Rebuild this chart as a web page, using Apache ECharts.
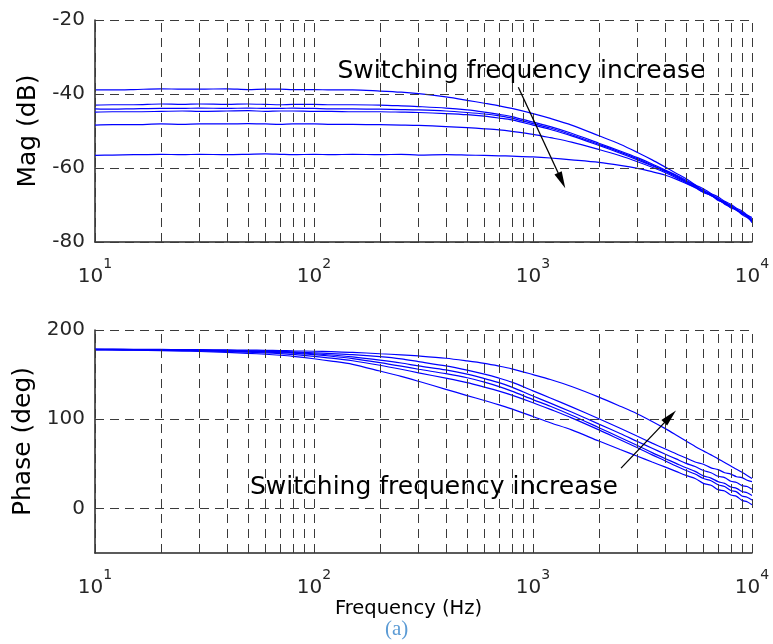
<!DOCTYPE html>
<html><head><meta charset="utf-8">
<script src="https://cdn.jsdelivr.net/npm/echarts@6/dist/echarts.min.js"></script>
<style>html,body{margin:0;padding:0;background:#fff}#c{width:773px;height:644px}</style>
</head><body><div id="c"></div>
<script>
// ---------- data ----------
const freqs = [10,12,15,20,25,30,40,50,60,70,80,100,120,150,200,250,300,400,500,600,700,800,1000,1200,1500,2000,2500,3000,3500,4000,4500,5000,5500,6000,6500,7000,7500,8000,8500,9000,9500,10000];

// magnitude (dB), switching frequency increasing from mag1 to mag6
const mag1 = [-38.9,-38.9,-38.8,-38.6,-38.7,-38.7,-38.6,-38.8,-38.7,-38.7,-38.8,-38.8,-38.9,-38.9,-39.2,-39.5,-39.9,-40.8,-41.7,-42.5,-43.2,-43.9,-45.3,-46.6,-48.4,-51.3,-53.6,-55.8,-57.8,-59.7,-61.4,-62.9,-64.5,-65.6,-66.9,-67.8,-69.0,-69.8,-70.9,-71.6,-72.7,-73.4];
const mag2 = [-43.0,-42.9,-42.9,-42.7,-42.8,-42.7,-42.8,-42.7,-42.8,-42.9,-42.8,-42.8,-42.9,-42.9,-43.0,-43.2,-43.4,-43.8,-44.3,-44.9,-45.5,-46.1,-47.6,-48.8,-50.6,-53.3,-55.4,-57.2,-58.9,-60.5,-61.9,-63.3,-64.8,-66.0,-67.2,-68.3,-69.2,-70.3,-71.1,-72.1,-72.8,-73.9];
const mag3 = [-44.0,-44.1,-44.0,-43.9,-43.9,-43.8,-43.9,-43.8,-43.9,-43.9,-43.8,-43.9,-44.0,-44.0,-44.1,-44.2,-44.3,-44.6,-45.0,-45.4,-45.9,-46.5,-48.0,-49.2,-51.0,-53.6,-55.7,-57.5,-59.2,-60.7,-62.1,-63.6,-64.6,-66.3,-67.0,-68.6,-69.5,-70.1,-71.5,-71.9,-73.2,-74.3];
const mag4 = [-44.9,-44.8,-44.8,-44.7,-44.6,-44.7,-44.6,-44.5,-44.7,-44.6,-44.6,-44.7,-44.7,-44.8,-44.8,-44.9,-45.0,-45.3,-45.6,-46.0,-46.5,-47.0,-48.4,-49.6,-51.3,-53.9,-56.0,-57.8,-59.4,-60.9,-62.3,-63.8,-65.0,-66.1,-67.5,-68.2,-69.8,-70.6,-71.2,-72.4,-73.0,-74.8];
const mag5 = [-48.4,-48.3,-48.3,-48.1,-48.2,-48.1,-48.1,-48.0,-48.1,-48.2,-48.1,-48.1,-48.2,-48.2,-48.3,-48.4,-48.5,-48.8,-49.1,-49.4,-49.7,-50.1,-50.9,-51.8,-53.0,-55.0,-56.7,-58.3,-59.8,-61.2,-62.6,-64.0,-65.2,-66.5,-67.3,-68.8,-69.4,-70.8,-71.3,-72.6,-73.4,-74.5];
const mag6 = [-56.6,-56.5,-56.4,-56.3,-56.4,-56.3,-56.4,-56.3,-56.2,-56.3,-56.4,-56.3,-56.4,-56.3,-56.4,-56.3,-56.5,-56.4,-56.5,-56.6,-56.7,-56.8,-57.0,-57.3,-57.8,-58.5,-59.3,-60.1,-61.0,-61.9,-63.0,-64.2,-65.3,-66.6,-67.4,-68.5,-69.6,-70.4,-71.4,-72.3,-73.0,-74.1];

// phase (deg), highest (ph1) to lowest (ph6)
const ph1 = [178.5,178.5,178.4,178.2,178.1,178.0,177.7,177.5,177.2,177.0,176.7,176.2,175.7,175.0,173.4,172.2,170.9,168.3,165.3,162.5,159.5,156.5,150.0,144.5,136.7,124.8,114.6,105.9,97.5,89.7,82.3,75.5,69.5,64.5,60.0,55.5,51.5,47.5,44.0,40.5,37.0,33.5];
const ph2 = [178.3,178.2,178.1,177.9,177.7,177.5,177.1,176.7,176.3,175.9,175.4,174.5,173.6,172.4,170.1,167.6,164.5,159.7,155.0,150.5,146.0,141.5,131.8,123.8,113.8,100.5,89.8,80.8,73.2,66.8,61.2,56.5,52.0,49.5,45.5,43.5,40.0,38.5,35.5,34.5,31.5,30.0];
const ph3 = [178.2,178.1,178.0,177.8,177.5,177.3,176.8,176.3,175.8,175.3,174.8,173.4,172.0,169.8,166.2,163.0,159.7,155.2,150.5,145.5,141.0,136.0,126.0,118.0,108.0,94.5,84.0,75.0,67.5,61.0,55.5,50.5,47.0,42.5,40.0,36.0,34.5,30.5,29.0,25.5,24.5,21.5];
const ph4 = [178.1,178.0,177.9,177.6,177.3,177.0,176.4,175.8,175.2,174.6,174.0,172.3,170.6,168.0,163.5,159.5,156.0,151.0,146.5,141.5,136.5,131.5,122.0,114.5,104.5,90.5,79.5,70.5,62.5,56.0,50.5,45.5,41.5,36.5,34.0,30.0,28.0,24.0,22.5,19.0,17.5,14.5];
const ph5 = [178.0,177.9,177.7,177.4,177.0,176.6,175.9,175.1,174.3,173.5,172.6,170.5,168.5,165.5,160.5,156.0,152.0,146.0,141.0,136.0,131.5,127.0,118.5,111.0,101.5,88.0,77.0,68.0,60.0,53.5,47.5,42.5,38.5,33.5,31.0,26.5,24.5,20.0,18.5,14.0,12.5,9.5];
const ph6 = [177.8,177.6,177.3,176.9,176.4,175.9,174.9,173.9,172.8,171.7,170.5,167.8,165.2,161.5,154.0,148.0,142.5,133.5,126.5,121.0,116.0,111.5,103.0,96.0,88.0,75.5,66.0,58.5,52.0,46.5,41.5,37.0,33.5,28.0,26.0,21.0,19.5,15.0,13.5,9.0,7.5,4.0];

// axis ticks
const decades = [10, 100, 1000, 10000];
const magTicks = [-80, -60, -40, -20];
const phaseTicks = [0, 100, 200];

// annotations (data units)
const annotText = 'Switching frequency increase';
const magNote = [885, -33.9];
const magArrow = [[857, -38.2], [1352, -63.4]];
const phNote = [353, 23];
const phArrow = [[2524, 45.1], [4228, 102.9]];

// ---------- chart ----------
const FONT = 'DejaVu Sans';
const AX = '#262626';
const GRID = '#3a3a3a';
const BLUE = '#0000ff';
const ARROW_HEAD = 'path://M5,0 L10,20 L0,20 Z';

const vGrid = [];
for (let d = 0; d < decades.length; d++) {
  vGrid.push(decades[d]);
  if (d < decades.length - 1) for (let k = 2; k <= 9; k++) vGrid.push(decades[d] * k);
}

function xAxisCfg(idx) {
  return {
    type: 'log', logBase: 10, min: 10, max: 10000, gridIndex: idx,
    axisLine: { show: true, onZero: false, lineStyle: { color: AX, width: 1.5 } },
    axisTick: { show: true, inside: true, length: 6, lineStyle: { color: AX } },
    splitLine: { show: false },
    axisLabel: {
      margin: 15,
      formatter: v => '{b|10}{s|' + Math.round(Math.log10(v)) + '}',
      rich: {
        b: { fontFamily: FONT, fontSize: 20, color: AX, verticalAlign: 'bottom', lineHeight: 30 },
        s: { fontFamily: FONT, fontSize: 14, color: AX, verticalAlign: 'top', lineHeight: 12 }
      }
    }
  };
}

function gridSeries(xi, yTicks) {
  const lines = vGrid.map(v => ({ xAxis: v })).concat(yTicks.map(v => ({ yAxis: v })));
  return {
    type: 'line', xAxisIndex: xi, yAxisIndex: xi, data: [], z: 1, silent: true,
    markLine: {
      silent: true, symbol: 'none', animation: false,
      label: { show: false },
      lineStyle: { type: [9, 6], color: GRID, width: 1 },
      data: lines
    }
  };
}

function curve(xi, arr) {
  return {
    type: 'line', xAxisIndex: xi, yAxisIndex: xi, z: 3, showSymbol: false, animation: false,
    data: freqs.map((f, i) => [f, arr[i]]),
    lineStyle: { color: BLUE, width: 1.2 }, smooth: 0.3
  };
}

function noteSeries(xi, note, arrow) {
  return {
    type: 'line', xAxisIndex: xi, yAxisIndex: xi, data: [], z: 5, silent: true,
    markPoint: {
      symbol: 'rect', symbolSize: 1, itemStyle: { color: 'rgba(0,0,0,0)' }, animation: false,
      label: { show: true, position: 'inside', color: '#000', fontFamily: FONT, fontSize: 25, formatter: annotText },
      data: [{ coord: note }]
    },
    markLine: {
      silent: true, animation: false, symbol: ['none', ARROW_HEAD], symbolSize: [8, 17],
      label: { show: false },
      itemStyle: { color: '#000' },
      lineStyle: { type: 'solid', color: '#000', width: 1.3 },
      data: [[{ coord: arrow[0] }, { coord: arrow[1] }]]
    }
  };
}

const chart = echarts.init(document.getElementById('c'), null, { renderer: 'canvas' });
chart.setOption({
  backgroundColor: '#fff',
  animation: false,
  title: {
    text: '(a)', left: 380, top: 614,
    textStyle: { fontFamily: 'Liberation Serif', fontSize: 21, fontWeight: 'normal', color: '#5b9bd5' }
  },
  grid: [
    { left: 95, top: 20, width: 657, height: 222 },
    { left: 95, top: 330, width: 657, height: 223 }
  ],
  xAxis: [
    xAxisCfg(0),
    Object.assign(xAxisCfg(1), {
      name: 'Frequency (Hz)', nameLocation: 'middle', nameGap: 20,
      nameTextStyle: { fontFamily: FONT, fontSize: 19.5, color: '#000', padding: [0, 30, 0, 0] }
    })
  ],
  yAxis: [
    {
      type: 'value', gridIndex: 0, min: -80, max: -20, interval: 20,
      name: 'Mag (dB)', nameLocation: 'middle', nameGap: 50,
      nameTextStyle: { fontFamily: FONT, fontSize: 25, color: '#000' },
      axisLine: { show: true, lineStyle: { color: AX, width: 1.5 } },
      axisTick: { show: false }, splitLine: { show: false },
      axisLabel: { fontFamily: FONT, fontSize: 20, color: AX, margin: 10 }
    },
    {
      type: 'value', gridIndex: 1, min: -50, max: 200, interval: 50,
      name: 'Phase (deg)', nameLocation: 'middle', nameGap: 54,
      nameTextStyle: { fontFamily: FONT, fontSize: 25, color: '#000' },
      axisLine: { show: true, lineStyle: { color: AX, width: 1.5 } },
      axisTick: { show: false }, splitLine: { show: false },
      axisLabel: {
        fontFamily: FONT, fontSize: 20, color: AX, margin: 10,
        formatter: v => (phaseTicks.indexOf(v) >= 0 ? String(v) : '')
      }
    }
  ],
  series: [
    gridSeries(0, magTicks),
    gridSeries(1, phaseTicks),
    curve(0, mag1), curve(0, mag2), curve(0, mag3), curve(0, mag4), curve(0, mag5), curve(0, mag6),
    curve(1, ph1), curve(1, ph2), curve(1, ph3), curve(1, ph4), curve(1, ph5), curve(1, ph6),
    noteSeries(0, magNote, magArrow),
    noteSeries(1, phNote, phArrow)
  ]
});
</script>
</body></html>
